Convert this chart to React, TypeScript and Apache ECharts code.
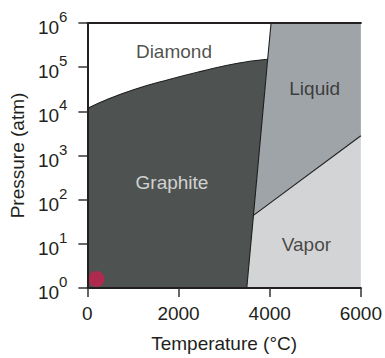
import React, { useEffect, useRef } from 'react';
import * as echarts from 'echarts';

// Axis ranges and ticks
const xTicks = [0, 2000, 4000, 6000];
const yExponents = [0, 1, 2, 3, 4, 5, 6];
const xMin = 0;
const xMax = 6000;
const yMin = 1;
const yMax = 1e6;

// Graphite / diamond boundary
const curveT = [0, 432, 1079, 1791, 2519, 3238, 3955];
const curveP = [11600, 18600, 32400, 52500, 81300, 120000, 151000];

// Melting line (solid / liquid, solid / vapor)
const meltT = [4030, 3955, 3643, 3497];
const meltP = [1e6, 151000, 44, 1];

// Liquid / vapor boundary
const vaporT = [3643, 6000];
const vaporP = [44, 2800];

// Region labels
const regionNames = ['Diamond', 'Graphite', 'Liquid', 'Vapor'];
const regionLabelT = [1899, 1856, 4986, 4805];
const regionLabelP = [223000, 240, 32400, 9.9];

// Marked point
const pointT = [200];
const pointP = [1.6];

const FONT = '"Liberation Sans", Arial, Helvetica, sans-serif';
const INK = '#231f20';

export default function App() {
  const ref = useRef<HTMLDivElement>(null);

  useEffect(() => {
    if (!ref.current) return;
    const chart = echarts.init(ref.current, undefined, { renderer: 'svg' });

    const curve = curveT.map((t, i) => [t, curveP[i]]);
    const melt = meltT.map((t, i) => [t, meltP[i]]);
    const vapor = vaporT.map((t, i) => [t, vaporP[i]]);
    const topMelt = melt[0];
    const triple1 = melt[1];
    const triple2 = melt[2];
    const bottomMelt = melt[3];

    const polygons = [
      // liquid
      [topMelt, [xMax, yMax], vapor[1], triple2, triple1],
      // vapor
      [triple2, vapor[1], [xMax, yMin], bottomMelt],
    ];
    const fills = ['#9fa4a9', '#d3d4d6'];
    const graphiteFill = '#4e5351';
    const labelColors = [INK, '#f4f4f4', INK, INK];

    const lineStyle = { color: '#1f1f1f', width: 1.1 };

    chart.setOption({
      animation: false,
      textStyle: { fontFamily: FONT },
      grid: { left: 84, right: 23, top: 23, bottom: 67, show: false },
      xAxis: [
        {
          type: 'value',
          min: xMin,
          max: xMax,
          interval: xTicks[1] - xTicks[0],
          z: 10,
          name: 'Temperature (°C)',
          nameLocation: 'middle',
          nameGap: 46,
          nameTextStyle: { fontSize: 19, color: INK, fontFamily: FONT },
          axisLine: { show: true, lineStyle: { color: INK, width: 2 } },
          axisTick: { show: true, length: 9, lineStyle: { color: '#333', width: 1.5 } },
          axisLabel: {
            fontSize: 19,
            color: INK,
            margin: 16,
            fontFamily: FONT,
            formatter: (v: number) => String(v),
          },
          splitLine: { show: false },
        },
        {
          type: 'value',
          position: 'top',
          min: xMin,
          max: xMax,
          z: 10,
          axisLine: { show: true, lineStyle: { color: INK, width: 2 } },
          axisTick: { show: false },
          axisLabel: { show: false },
          splitLine: { show: false },
        },
      ],
      yAxis: [
        {
          type: 'log',
          logBase: 10,
          min: yMin,
          max: yMax,
          interval: 1,
          splitNumber: yExponents.length - 1,
          z: 10,
          name: 'Pressure (atm)',
          nameLocation: 'middle',
          nameGap: 55,
          nameTextStyle: { fontSize: 19, color: INK, fontFamily: FONT },
          axisLine: { show: true, lineStyle: { color: INK, width: 2 } },
          axisTick: { show: true, length: 9, lineStyle: { color: '#333', width: 1.5 } },
          axisLabel: {
            margin: 20,
            color: INK,
            fontFamily: FONT,
            formatter: (v: number) => `{b|10}{s|${Math.round(Math.log10(v))}}`,
            rich: {
              b: { fontSize: 19, lineHeight: 28, verticalAlign: 'bottom', color: INK, fontFamily: FONT },
              s: { fontSize: 15, lineHeight: 14, verticalAlign: 'top', color: INK, fontFamily: FONT },
            },
          },
          splitLine: { show: false },
        },
        {
          type: 'log',
          logBase: 10,
          position: 'right',
          min: yMin,
          max: yMax,
          z: 10,
          axisLine: { show: true, lineStyle: { color: INK, width: 2 } },
          axisTick: { show: false },
          axisLabel: { show: false },
          splitLine: { show: false },
        },
      ],
      series: [
        {
          // graphite: area under the graphite/diamond curve
          type: 'line',
          data: curve,
          symbol: 'none',
          smooth: 0.5,
          lineStyle,
          areaStyle: { color: graphiteFill, opacity: 1, origin: 'start' },
          z: 1,
          silent: true,
        },
        {
          type: 'custom',
          xAxisIndex: 0,
          yAxisIndex: 0,
          clip: true,
          data: polygons.map((_, i) => [i, 1]),
          renderItem: (params: any, api: any) => {
            const idx = api.value(0);
            const pts = polygons[idx].map((p) => api.coord(p));
            return {
              type: 'polygon',
              shape: { points: pts },
              style: { fill: fills[idx], stroke: 'none' },
            };
          },
          z: 2,
          silent: true,
        },
        {
          type: 'line',
          data: melt,
          symbol: 'none',
          lineStyle,
          z: 3,
          silent: true,
        },
        {
          type: 'line',
          data: vapor,
          symbol: 'none',
          lineStyle,
          z: 3,
          silent: true,
        },
        {
          type: 'scatter',
          data: regionNames.map((n, i) => ({
            value: [regionLabelT[i], regionLabelP[i]],
            name: n,
            label: { color: labelColors[i] },
          })),
          symbolSize: 0,
          label: {
            show: true,
            position: 'inside',
            formatter: (p: any) => p.name,
            fontSize: 19,
            fontFamily: FONT,
          },
          z: 4,
          silent: true,
        },
        {
          type: 'scatter',
          data: pointT.map((t, i) => [t, pointP[i]]),
          symbolSize: 16,
          itemStyle: { color: '#c8204f' },
          z: 5,
          silent: true,
        },
      ],
    });

    return () => chart.dispose();
  }, []);

  return (
    <div
      ref={ref}
      style={{ position: 'fixed', left: 0, top: 0, width: 385, height: 358, background: '#fff' }}
    />
  );
}
